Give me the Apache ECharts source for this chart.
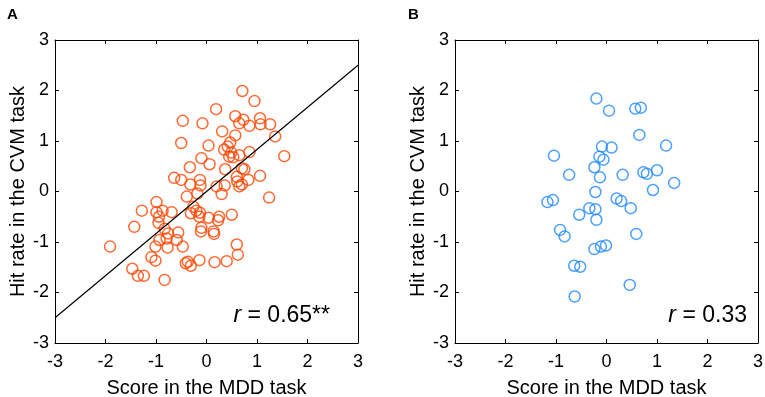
<!DOCTYPE html>
<html>
<head>
<meta charset="utf-8">
<script src="https://cdn.jsdelivr.net/npm/echarts@6/dist/echarts.min.js"></script>
<style>
html, body { margin: 0; padding: 0; background: #fff; }
#chart { width: 765px; height: 397px; }
</style>
</head>
<body>
<div id="chart"></div>
<script>
// panel A : MDD score vs CVM hit rate (orange)
var aX = [-1.91, -0.47, -0.50, -0.08, 0.19, 0.71, 0.95, 0.57, 0.73, 0.65, 0.85, 1.06, 1.07, 1.26, 1.36, 1.54,
	0.31, 0.57, 0.47, 0.35, 0.04, -0.10, 0.06, -0.33, -0.64, -0.50, -0.32, -0.13, -0.12, -0.39, -0.18, 0.20,
	0.36, 0.30, 0.37, 0.45, 0.53, 0.65, 0.85, 0.75, 1.06, 0.60, 0.61, 0.70, 0.65, 0.83, 1.24, 0.70, 0.42, 0.49,
	-1.28, -1.43, -0.99, -0.99, -0.94, -0.95, -0.87, -0.69, -0.83, -0.76, -0.56, -0.93, -0.79, -0.59, -1.01, -0.47,
	-0.77, -1.09, -1.01, -1.47, -1.36, -1.24, -0.83, -0.41, -0.37, -0.31, -0.14, 0.16, 0.40, 0.62, 0.60, -0.20,
	-0.13, -0.14, 0.04, -0.10, -0.11, 0.14, 0.15, 0.25, 0.23, 0.50, -0.31, -0.26];
var aY = [-1.09, 1.40, 0.96, 1.35, 1.63, 1.99, 1.79, 1.49, 1.42, 1.35, 1.30, 1.45, 1.33, 1.33, 1.09, 0.70,
	1.19, 1.11, 0.97, 0.83, 0.91, 0.66, 0.54, 0.48, 0.27, 0.23, 0.14, 0.23, 0.12, -0.10, -0.04, 0.10,
	0.12, -0.05, 0.44, 0.69, 0.68, 0.72, 0.78, 0.44, 0.31, 0.29, 0.20, 0.14, 0.10, 0.23, -0.12, 0.46, 0.89, 0.77,
	-0.38, -0.70, -0.21, -0.41, -0.50, -0.62, -0.38, -0.41, -0.74, -0.83, -0.81, -0.96, -0.93, -0.96, -1.09, -1.09,
	-1.11, -1.30, -1.37, -1.53, -1.67, -1.67, -1.75, -1.42, -1.39, -1.47, -1.36, -1.40, -1.38, -1.25, -1.05, -0.38,
	-0.42, -0.50, -0.52, -0.72, -0.79, -0.79, -0.84, -0.50, -0.57, -0.46, -0.43, -0.30];
var fitX = [-3, 3];
var fitY = [-2.5, 2.5];

// panel B (blue)
var bX = [-0.20, 0.05, 0.57, 0.68, 0.65, 1.18, -0.09, 0.10, -1.04, -0.14, -0.06, -0.24, -0.74, -0.13, 0.32, 0.73,
	0.80, 1.00, 1.34, 0.92, -0.22, -1.17, -1.06, 0.20, 0.29, 0.48, -0.34, -0.22, -0.20, -0.54, -0.92, -0.83,
	0.59, -0.24, -0.11, -0.01, -0.64, -0.52, 0.46, -0.63];
var bY = [1.84, 1.60, 1.64, 1.66, 1.12, 0.91, 0.89, 0.87, 0.71, 0.69, 0.63, 0.48, 0.33, 0.28, 0.33, 0.38,
	0.35, 0.42, 0.17, 0.03, -0.01, -0.21, -0.17, -0.14, -0.19, -0.33, -0.33, -0.35, -0.56, -0.46, -0.76, -0.89,
	-0.84, -1.14, -1.09, -1.07, -1.47, -1.49, -1.85, -2.08];

var ticks = [-3, -2, -1, 0, 1, 2, 3];
var xTitle = 'Score in the MDD task';
var yTitle = 'Hit rate in the CVM task';

function zip(xs, ys) {
	var out = [];
	for (var i = 0; i < xs.length; i++) {
		out.push([xs[i], ys[i]]);
	}
	return out;
}

var font = 'Liberation Sans, Arial, sans-serif';

function valAxis(dim, idx, pos, main) {
	var ax = {
		type: 'value',
		gridIndex: idx,
		position: pos,
		min: ticks[0],
		max: ticks[ticks.length - 1],
		interval: 1,
		splitLine: { show: false },
		axisLine: { show: true, onZero: false, lineStyle: { color: '#000', width: 1 } },
		axisTick: { show: true, inside: true, length: 4, lineStyle: { color: '#000' } },
		axisLabel: { show: main, color: '#000', fontSize: 18, fontFamily: font, margin: dim == 'x' ? 10 : 6 }
	};
	if (main) {
		ax.name = dim == 'x' ? xTitle : yTitle;
		ax.nameLocation = 'middle';
		ax.nameGap = dim == 'x' ? 35 : 27;
		ax.nameTextStyle = { color: '#000', fontSize: 20, fontFamily: font };
	}
	return ax;
}

var option = {
	animation: false,
	backgroundColor: '#fff',
	grid: [
		{ left: 55, right: 407, top: 40, bottom: 54, containLabel: false, outerBoundsMode: 'none' },
		{ left: 455, right: 7, top: 40, bottom: 54, containLabel: false, outerBoundsMode: 'none' }
	],
	xAxis: [
		valAxis('x', 0, 'bottom', true), valAxis('x', 0, 'top', false),
		valAxis('x', 1, 'bottom', true), valAxis('x', 1, 'top', false)
	],
	yAxis: [
		valAxis('y', 0, 'left', true), valAxis('y', 0, 'right', false),
		valAxis('y', 1, 'left', true), valAxis('y', 1, 'right', false)
	],
	series: [
		{
			type: 'line',
			xAxisIndex: 0,
			yAxisIndex: 0,
			data: zip(fitX, fitY),
			symbol: 'none',
			lineStyle: { color: '#000', width: 1.2 },
			z: 3
		},
		{
			type: 'scatter',
			xAxisIndex: 0,
			yAxisIndex: 0,
			data: zip(aX, aY),
			symbol: 'circle',
			symbolSize: 11,
			itemStyle: { color: 'rgba(0,0,0,0)', borderColor: '#ff4500', borderWidth: 1.5 },
			z: 2
		},
		{
			type: 'scatter',
			xAxisIndex: 2,
			yAxisIndex: 2,
			data: zip(bX, bY),
			symbol: 'circle',
			symbolSize: 11,
			itemStyle: { color: 'rgba(0,0,0,0)', borderColor: '#1e88ff', borderWidth: 1.5 }
		}
	],
	graphic: [
		{ type: 'text', left: 7, top: 7, style: { text: 'A', font: 'bold 15px ' + font, fill: '#000' } },
		{ type: 'text', left: 408, top: 7, style: { text: 'B', font: 'bold 15px ' + font, fill: '#000' } },
		{
			type: 'text', right: 435, top: 304,
			style: {
				text: '{i|r} = 0.65**', fill: '#000', font: '23px ' + font,
				rich: { i: { fontStyle: 'italic', fontSize: 23, fontFamily: font } }
			}
		},
		{
			type: 'text', right: 18, top: 304,
			style: {
				text: '{i|r} = 0.33', fill: '#000', font: '23px ' + font,
				rich: { i: { fontStyle: 'italic', fontSize: 23, fontFamily: font } }
			}
		}
	]
};

var chart = echarts.init(document.getElementById('chart'));
chart.setOption(option);
</script>
</body>
</html>
